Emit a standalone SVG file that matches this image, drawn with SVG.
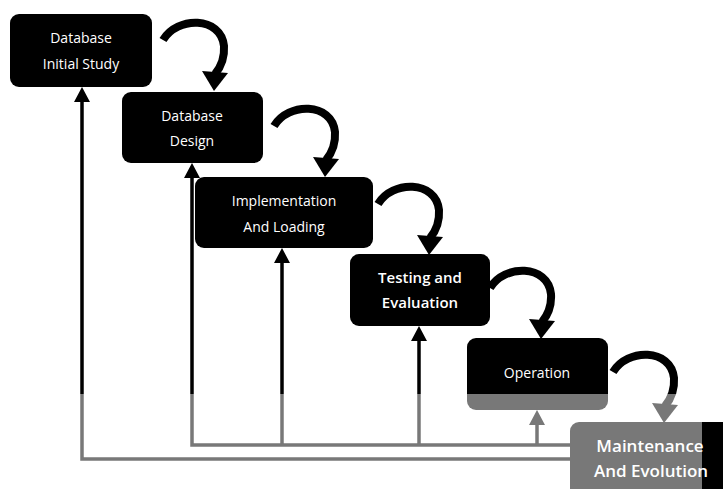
<svg xmlns="http://www.w3.org/2000/svg" width="723" height="489" viewBox="0 0 723 489">
<defs>
<style>
.box{fill:#000}
.t{fill:#fff;font-family:"Open Sans","Liberation Sans",sans-serif;font-size:14px;text-anchor:middle}
.tb{font-weight:600;font-size:15px}
.tm{font-weight:600;font-size:17px}
.ln{fill:none;stroke:#000;stroke-width:3.5}
.curve{fill:none;stroke:#000;stroke-width:8}
.ah{fill:#000}
</style>
<g id="curl">
<path class="curve" d="M0,0 C14,-24 58,-24 61,6 Q62,22 52,34"/>
<polygon class="ah" points="39,31 65,33 51,51"/>
</g>
<polygon id="uparrow" class="ah" points="0,0 -8,15 8,15"/>
</defs>

<g id="connectors">
<polyline class="ln" points="82,100 82,459 572,459"/>
<polyline class="ln" points="192,176 192,445 572,445"/>
<line class="ln" x1="282" y1="260" x2="282" y2="445"/>
<line class="ln" x1="419" y1="338" x2="419" y2="445"/>
<line class="ln" x1="537" y1="422" x2="537" y2="445"/>
<use href="#uparrow" x="82" y="87"/>
<use href="#uparrow" x="192" y="163"/>
<use href="#uparrow" x="282" y="248"/>
<use href="#uparrow" x="419" y="326"/>
<use href="#uparrow" x="537" y="410"/>
<use href="#curl" x="163" y="40"/>
<use href="#curl" x="274" y="126"/>
<use href="#curl" x="378" y="204"/>
<use href="#curl" x="490" y="288"/>
<use href="#curl" x="613" y="372"/>
</g>

<g id="n1">
<rect class="box" x="10" y="14" width="142" height="73" rx="9"/>
<text class="t" x="81" y="43">Database</text>
<text class="t" x="81" y="69">Initial Study</text>
</g>
<g id="n2">
<rect class="box" x="122" y="92" width="141" height="71" rx="9"/>
<text class="t" x="192" y="121">Database</text>
<text class="t" x="192" y="146">Design</text>
</g>
<g id="n3">
<rect class="box" x="195" y="177" width="178" height="71" rx="9"/>
<text class="t" x="284" y="206">Implementation</text>
<text class="t" x="284" y="232">And Loading</text>
</g>
<g id="n4">
<rect class="box" x="350" y="254" width="140" height="72" rx="9"/>
<text class="t tb" x="420" y="283">Testing and</text>
<text class="t tb" x="420" y="308">Evaluation</text>
</g>
<g id="n5">
<rect class="box" x="467" y="338" width="141" height="72" rx="9"/>
<text class="t" x="537" y="378">Operation</text>
</g>
<g id="n6">
<rect class="box" x="570" y="422" width="170" height="80" rx="9"/>
</g>

<rect x="0" y="394" width="702" height="95" fill="#fff" fill-opacity="0.47"/>

<g id="n6-label">
<text class="t tm" x="650" y="452">Maintenance</text>
<text class="t tm" x="651" y="477">And Evolution</text>
</g>
</svg>
